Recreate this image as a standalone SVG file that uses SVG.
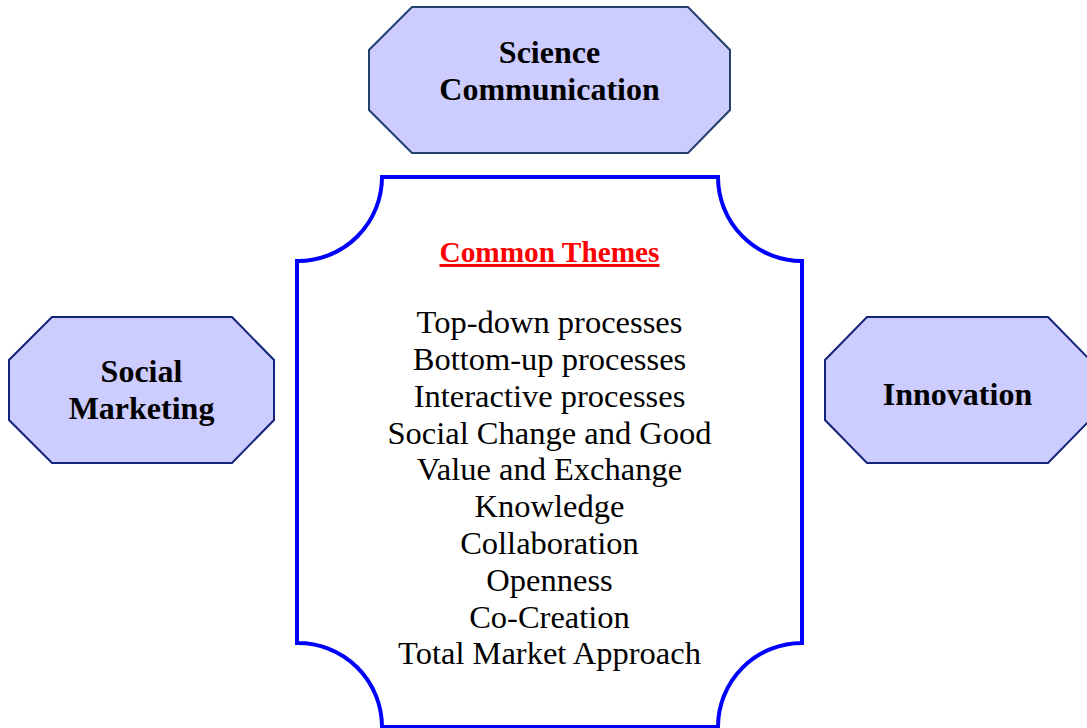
<svg xmlns="http://www.w3.org/2000/svg" width="1087" height="728" viewBox="0 0 1087 728">
<style>
.oct{fill:#CCCCFF;stroke:#14237A;stroke-width:2}
.lbl{font-family:"Liberation Serif",serif;font-weight:bold;font-size:32px;fill:#000;text-anchor:middle}
.item{font-family:"Liberation Serif",serif;font-size:32.5px;fill:#000;text-anchor:middle}
.head{font-family:"Liberation Serif",serif;font-weight:bold;font-size:29.3px;fill:#FF0000;text-anchor:middle;text-decoration:underline}
</style>
<rect width="1087" height="728" fill="#fff"/>
<g id="connectors"></g>
<g id="science">
<polygon class="oct" style="stroke:#22406E" points="412,7 688,7 730,50 730,110 688,153 412,153 369,110 369,50"/>
<text class="lbl" x="549.5" y="63">Science</text>
<text class="lbl" x="549.5" y="100">Communication</text>
</g>
<g id="social">
<polygon class="oct" points="52,317 232,317 274,360 274,420 232,463 52,463 9,420 9,360"/>
<text class="lbl" x="141.5" y="382">Social</text>
<text class="lbl" x="141.5" y="419">Marketing</text>
</g>
<g id="innovation">
<polygon class="oct" points="867,317 1048,317 1090,360 1090,420 1048,463 867,463 825,420 825,360"/>
<text class="lbl" x="957.5" y="405">Innovation</text>
</g>
<g id="themes">
<path d="M382,177 L718,177 A84,84 0 0 0 802,261 L802,643 A84,84 0 0 0 718,727 L382,727 A84,84 0 0 0 297,643 L297,261 A84,84 0 0 0 382,177 Z" fill="#fff" stroke="#0000FF" stroke-width="4"/>
<text class="head" x="549.5" y="262">Common Themes</text>
<text class="item" x="549.5" y="333">Top-down processes</text>
<text class="item" x="549.5" y="370">Bottom-up processes</text>
<text class="item" x="549.5" y="407">Interactive processes</text>
<text class="item" x="549.5" y="444">Social Change and Good</text>
<text class="item" x="549.5" y="480">Value and Exchange</text>
<text class="item" x="549.5" y="517">Knowledge</text>
<text class="item" x="549.5" y="554">Collaboration</text>
<text class="item" x="549.5" y="591">Openness</text>
<text class="item" x="549.5" y="628">Co-Creation</text>
<text class="item" x="549.5" y="664">Total Market Approach</text>
</g>
</svg>
